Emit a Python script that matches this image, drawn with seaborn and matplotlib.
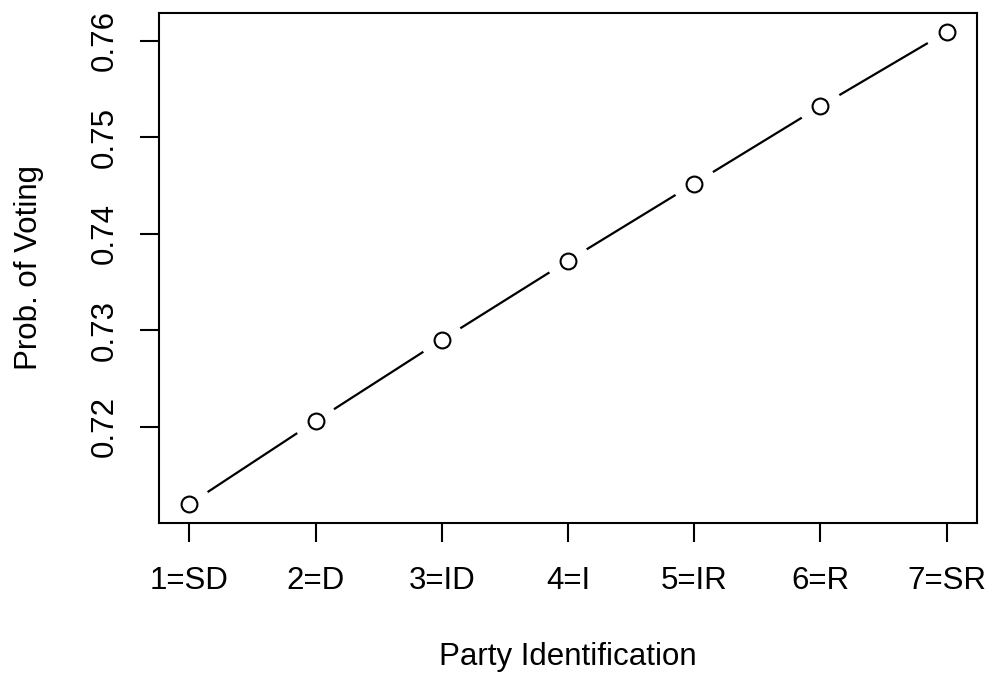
import matplotlib
matplotlib.use("Agg")
import matplotlib.pyplot as plt
import seaborn as sns
import pandas as pd

party_codes = [1, 2, 3, 4, 5, 6, 7]
party_labels = ["1=SD", "2=D", "3=ID", "4=I", "5=IR", "6=R", "7=SR"]
prob_voting = [0.7120, 0.7206, 0.7290, 0.7372, 0.7452, 0.7532, 0.7609]
y_ticks = [0.72, 0.73, 0.74, 0.75, 0.76]

df = pd.DataFrame({"party": party_codes, "prob": prob_voting})

sns.set_style("white")
plt.rcParams['font.family'] = ['Liberation Sans', 'DejaVu Sans']
FS = 22.5

fig = plt.figure(figsize=(9.9, 6.79), dpi=100)
ax = fig.add_axes([159 / 990, 1 - 523 / 679, (977 - 159) / 990, (523 - 13) / 679])

# R type="b": line with gaps around the points
sns.lineplot(data=df, x="party", y="prob", color="black", linewidth=1.6, ax=ax, zorder=1)
sns.scatterplot(data=df, x="party", y="prob", s=1000, color="white", edgecolor="none", ax=ax, zorder=2)
sns.scatterplot(data=df, x="party", y="prob", s=130, facecolor="white", edgecolor="black",
                linewidth=1.5, ax=ax, zorder=3)

ax.margins(x=0.04, y=0.04)
ax.set_xticks(party_codes)
ax.set_xticklabels(party_labels)
ax.set_yticks(y_ticks)
ax.set_yticklabels([f"{v:.2f}" for v in y_ticks], rotation=90, va="center")

for sp in ax.spines.values():
    sp.set_visible(True)
    sp.set_color("black")
    sp.set_linewidth(1.5)

ax.tick_params(axis="x", direction="out", length=14, width=1.5, pad=17,
               labelsize=FS, colors="black", bottom=True)
ax.tick_params(axis="y", direction="out", length=14, width=1.5, pad=14,
               labelsize=FS, colors="black", left=True)

ax.set_xlabel("Party Identification", fontsize=FS, color="black")
ax.set_ylabel("Prob. of Voting", fontsize=FS, color="black")
ax.xaxis.set_label_coords(0.5, -0.233)
ax.yaxis.set_label_coords(-0.1406, 0.5)

fig.savefig("out.png", dpi=100)
